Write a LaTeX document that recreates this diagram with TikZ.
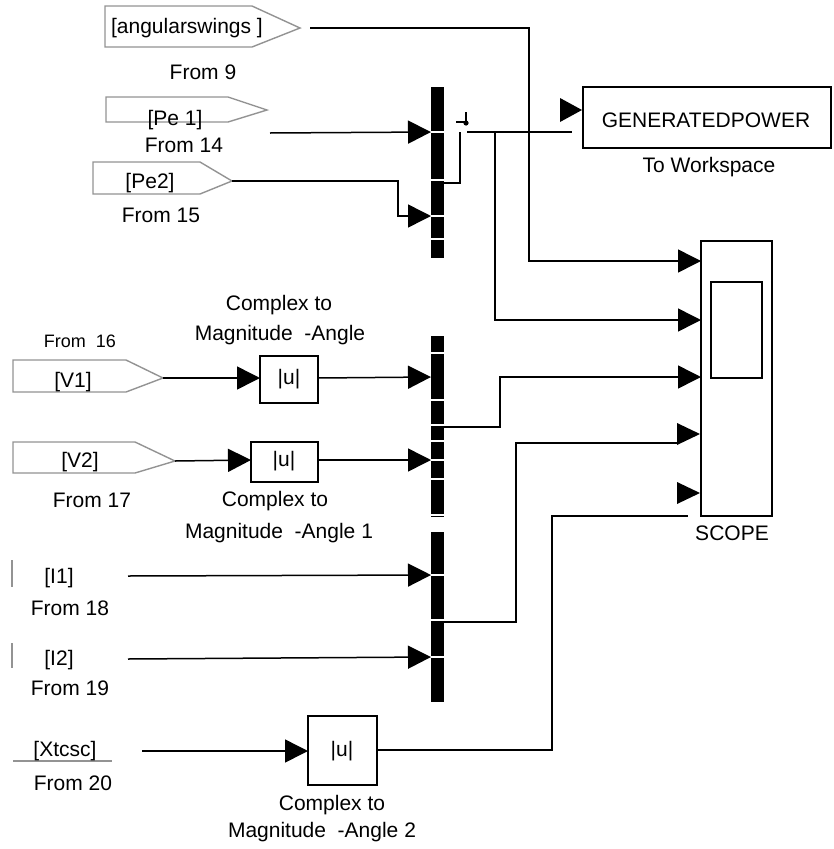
\documentclass[tikz,border=0pt]{standalone}
\usepackage{fontspec}
\setmainfont{Liberation Sans}
\usetikzlibrary{arrows.meta}
\begin{document}
\begin{tikzpicture}[x=1pt,y=-1pt,
  wire/.style={line width=1.5pt},
  arr/.style={wire,-{Triangle[length=23pt,width=23pt]}},
  tagshape/.style={draw=gray!85, line width=1.4pt, fill=white},
  blk/.style={draw, line width=1.5pt, fill=white},
  lbl/.style={font=\fontsize{21}{23}\selectfont, inner sep=0pt, anchor=center},
  smalllbl/.style={font=\fontsize{18}{20}\selectfont, inner sep=0pt, anchor=center},
  muxbar/.style={fill=black},
  sep/.style={draw=white, line width=1.3pt},
  ]
\useasboundingbox (0,0) rectangle (833,849);

% ---------- goto/from tags ----------
\draw[tagshape] (105,6) -- (252,6) -- (300,28) -- (252,47) -- (105,47) -- cycle;
\node[lbl] (t9) at (187,28) {[angularswings ]};
\node[lbl] (f9) at (203,72) {From 9};
\coordinate (t9out) at (310,28);

\draw[tagshape] (106,97) -- (228,97) -- (267,110) -- (228,122) -- (106,122) -- cycle;
\node[lbl] (t14) at (175,120) {[Pe 1]};
\node[lbl] (f14) at (184,145) {From 14};
\coordinate (t14out) at (270,133);

\draw[tagshape] (93,162) -- (200,162) -- (232,181) -- (200,194) -- (93,194) -- cycle;
\node[lbl] (t15) at (150,183) {[Pe2]};
\node[lbl] (f15) at (161,215) {From 15};
\coordinate (t15out) at (232,181);

\draw[tagshape] (13,360) -- (126,360) -- (163,378) -- (126,392) -- (13,392) -- cycle;
\node[lbl] (t16) at (73,382) {[V1]};
\node[smalllbl] (f16) at (80,341) {From~~16};
\coordinate (t16out) at (163,378);

\draw[tagshape] (13,442) -- (135,442) -- (175,461) -- (135,473) -- (13,473) -- cycle;
\node[lbl] (t17) at (80,462) {[V2]};
\node[lbl] (f17) at (92,500) {From 17};
\coordinate (t17out) at (175,461);

\draw[gray!85, line width=1.4pt] (12,560) -- (12,587);
\node[lbl] (t18) at (59,578) {[I1]};
\node[lbl] (f18) at (70,608) {From 18};
\coordinate (t18out) at (128,576);

\draw[gray!85, line width=1.4pt] (12,643) -- (12,668);
\node[lbl] (t19) at (59,660) {[I2]};
\node[lbl] (f19) at (70,688) {From 19};
\coordinate (t19out) at (128,659);

\draw[gray!85, line width=1.4pt] (13,761) -- (112,761);
\node[lbl] (t20) at (65,751) {[Xtcsc]};
\node[lbl] (f20) at (73,783) {From 20};
\coordinate (t20out) at (142,751);

% ---------- |u| blocks ----------
\draw[blk] (260,356) rectangle (318,403);
\node[lbl] (u1) at (289,379) {|u|};
\coordinate (u1in) at (260,378);
\coordinate (u1out) at (318,378);
\node[lbl] (c1a) at (279,305) {Complex to};
\node[lbl] (c1b) at (280,335) {Magnitude~~-Angle};

\draw[blk] (251,442) rectangle (318,482);
\node[lbl] (u2) at (284,461) {|u|};
\coordinate (u2in) at (251,460);
\coordinate (u2out) at (318,460);
\node[lbl] (c2a) at (275,501) {Complex to};
\node[lbl] (c2b) at (279,533) {Magnitude~~-Angle 1};

\draw[blk] (308,716) rectangle (377,785);
\node[lbl] (u3) at (342,751) {|u|};
\coordinate (u3in) at (308,751);
\coordinate (u3out) at (377,750);
\node[lbl] (c3a) at (332,805) {Complex to};
\node[lbl] (c3b) at (322,832) {Magnitude~~-Angle 2};

% ---------- mux bars ----------
\fill[muxbar] (431,87) rectangle (444,258);
\foreach \yy in {132,180,216,239} \draw[sep] (431,\yy) -- (444,\yy);
\coordinate (m1in1) at (431,132);
\coordinate (m1in2) at (431,216);
\coordinate (m1out) at (444,183);

\fill[muxbar] (431,336) rectangle (444,517);
\foreach \yy in {353,400,425,441,479,515} \draw[sep] (431,\yy) -- (444,\yy);
\draw[sep] (431,460) -- (444,460);
\coordinate (m2in1) at (431,377);
\coordinate (m2in2) at (431,460);
\coordinate (m2out) at (444,427);

\fill[muxbar] (431,532) rectangle (444,702);
\foreach \yy in {575,620,657} \draw[sep] (431,\yy) -- (444,\yy);
\coordinate (m3in1) at (431,575);
\coordinate (m3in2) at (431,657);
\coordinate (m3out) at (444,622);

% ---------- To Workspace ----------
\draw[blk] (583,87) rectangle (831,148);
\node[lbl] (gp) at (706,120) {GENERATEDPOWER};
\node[lbl] (tw) at (709,167) {To Workspace};
\fill (560,98) -- (582,110) -- (560,122) -- cycle;

% ---------- Scope ----------
\draw[blk] (701,241) rectangle (772,516);
\draw[line width=1.5pt] (711,282) rectangle (762,378);
\node[lbl] (sc) at (732,533) {SCOPE};
\coordinate (s1) at (701,261);
\coordinate (s2) at (701,320);
\coordinate (s3) at (701,377);
\coordinate (s4) at (677,443);
\coordinate (s5) at (688,516);
\fill (677,423) -- (700,434) -- (677,445) -- cycle;
\fill (677,482) -- (700,493) -- (677,504) -- cycle;

% ---------- wires ----------
\draw[arr] (t9out) -- (529,28) -- (529,261) -- (s1);
\draw[arr] (t14out) -- (m1in1);
\draw[arr] (t15out) -- (398,181) -- (398,216) -- (m1in2);
\draw[wire] (m1out) -- (460,183) -- (460,132);
\draw[wire] (456,122) -- (466,122);
\draw[wire] (466,112) -- (466,122);
\fill (466,123) circle (2.6);
\coordinate (gpline) at (572,132);
\draw[wire] (467,132) -- (gpline);
\draw[arr] (495,132) -- (495,320) -- (s2);

\draw[arr] (t16out) -- (u1in);
\draw[arr] (u1out) -- (m2in1);
\draw[arr] (t17out) -- (u2in);
\draw[arr] (u2out) -- (m2in2);
\draw[arr] (m2out) -- (500,427) -- (500,377) -- (s3);

\draw[arr] (t18out) -- (m3in1);
\draw[arr] (t19out) -- (m3in2);
\draw[wire] (m3out) -- (516,622) -- (516,443) -- (s4);

\draw[arr] (t20out) -- (u3in);
\draw[wire] (u3out) -- (552,750) -- (552,516) -- (s5);
\end{tikzpicture}
\end{document}
